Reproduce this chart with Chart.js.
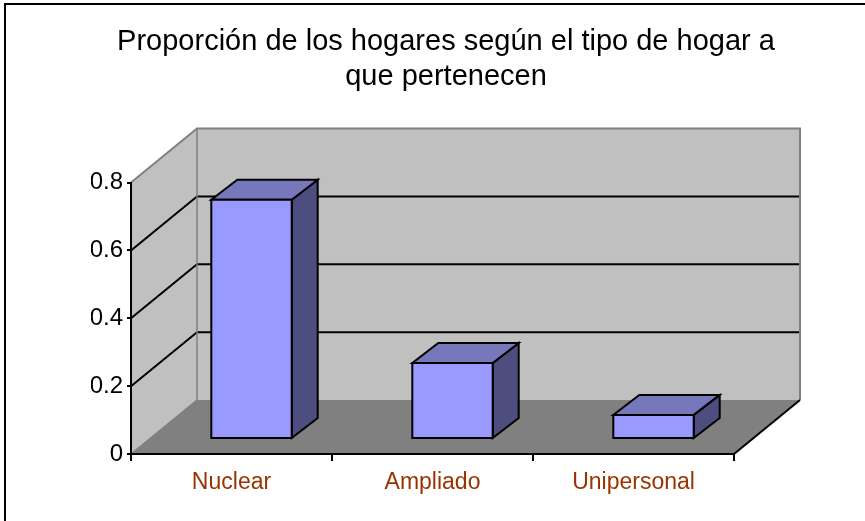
<!DOCTYPE html>
<html>
<head>
<meta charset="utf-8">
<script src="https://cdn.jsdelivr.net/npm/chart.js@4.4.0/dist/chart.umd.min.js"></script>
<style>
  html, body { margin: 0; padding: 0; background: #fff; }
</style>
</head>
<body>
<canvas id="grafico" width="865" height="521"></canvas>
<script>
// datos del gráfico
const categorias = ['Nuclear', 'Ampliado', 'Unipersonal'];
const proporciones = [0.705, 0.224, 0.071];
const titulo = ['Proporción de los hogares según el tipo de hogar a', 'que pertenecen'];
const ejeMin = 0;
const ejeMax = 0.8;
const ejePaso = 0.2;

// profundidad del efecto 3D (pixeles)
const FONDO_DX = 66, FONDO_DY = -54;   // pared del fondo
const BARRA_DX = 20, BARRA_DY = -15;   // donde se apoyan las barras en el piso
const CARA_DX = 26, CARA_DY = -20;     // grosor de cada barra

function poligono(ctx, pts, relleno, borde, ancho) {
  ctx.beginPath();
  ctx.moveTo(pts[0][0], pts[0][1]);
  for (let i = 1; i < pts.length; i++) ctx.lineTo(pts[i][0], pts[i][1]);
  ctx.closePath();
  if (relleno) { ctx.fillStyle = relleno; ctx.fill(); }
  if (borde) { ctx.strokeStyle = borde; ctx.lineWidth = ancho; ctx.stroke(); }
}

function linea(ctx, pts, color, ancho) {
  ctx.beginPath();
  ctx.moveTo(pts[0][0], pts[0][1]);
  for (let i = 1; i < pts.length; i++) ctx.lineTo(pts[i][0], pts[i][1]);
  ctx.strokeStyle = color;
  ctx.lineWidth = ancho;
  ctx.stroke();
}

const efecto3D = {
  id: 'efecto3D',
  beforeDraw(chart) {
    const ctx = chart.ctx;
    const { left, right, top, bottom } = chart.chartArea;
    const escalaY = chart.scales.y;
    ctx.save();
    ctx.lineJoin = 'miter';

    // marco exterior
    ctx.strokeStyle = '#000';
    ctx.lineWidth = 2;
    ctx.strokeRect(5, 4, chart.width, chart.height);

    // paredes y piso
    poligono(ctx, [[left + FONDO_DX, top + FONDO_DY], [right + FONDO_DX, top + FONDO_DY],
      [right + FONDO_DX, bottom + FONDO_DY], [left + FONDO_DX, bottom + FONDO_DY]], '#C0C0C0');
    poligono(ctx, [[left, top], [left + FONDO_DX, top + FONDO_DY],
      [left + FONDO_DX, bottom + FONDO_DY], [left, bottom]], '#C0C0C0');
    poligono(ctx, [[left, bottom], [right, bottom],
      [right + FONDO_DX, bottom + FONDO_DY], [left + FONDO_DX, bottom + FONDO_DY]], '#808080');

    // lineas de division en las paredes
    escalaY.ticks.forEach(t => {
      if (t.value <= ejeMin || t.value >= ejeMax) return;
      const py = escalaY.getPixelForValue(t.value);
      linea(ctx, [[left, py], [left + FONDO_DX, py + FONDO_DY], [right + FONDO_DX, py + FONDO_DY]], '#000', 2);
    });

    // bordes grises de las paredes
    linea(ctx, [[left, top], [left + FONDO_DX, top + FONDO_DY], [right + FONDO_DX, top + FONDO_DY],
      [right + FONDO_DX, bottom + FONDO_DY]], '#808080', 2);
    linea(ctx, [[left + FONDO_DX, top + FONDO_DY], [left + FONDO_DX, bottom + FONDO_DY]], '#808080', 1.5);
    linea(ctx, [[left, bottom], [left + FONDO_DX, bottom + FONDO_DY]], '#808080', 1.5);

    // borde derecho del piso
    linea(ctx, [[right, bottom], [right + FONDO_DX, bottom + FONDO_DY]], '#000', 2);
    ctx.restore();
  },
  beforeDatasetDraw() {
    return false; // las barras se dibujan en 3D abajo
  },
  afterDatasetsDraw(chart) {
    const ctx = chart.ctx;
    const ds = chart.data.datasets[0];
    ctx.save();
    ctx.lineJoin = 'miter';
    chart.getDatasetMeta(0).data.forEach(barra => {
      const p = barra.getProps(['x', 'y', 'base', 'width'], true);
      const x0 = p.x - p.width / 2 + BARRA_DX;
      const x1 = p.x + p.width / 2 + BARRA_DX;
      const yt = p.y + BARRA_DY;
      const yb = p.base + BARRA_DY;
      poligono(ctx, [[x1, yt], [x1 + CARA_DX, yt + CARA_DY], [x1 + CARA_DX, yb + CARA_DY], [x1, yb]],
        ds.colorLado, '#000', 2);
      poligono(ctx, [[x0, yt], [x1, yt], [x1 + CARA_DX, yt + CARA_DY], [x0 + CARA_DX, yt + CARA_DY]],
        ds.colorTapa, '#000', 2);
      poligono(ctx, [[x0, yt], [x1, yt], [x1, yb], [x0, yb]], ds.backgroundColor, '#000', 2);
    });
    ctx.restore();
  }
};

Chart.defaults.font.family = "'Liberation Sans', Arial, sans-serif";

new Chart(document.getElementById('grafico'), {
  type: 'bar',
  data: {
    labels: categorias,
    datasets: [{
      data: proporciones,
      backgroundColor: '#9999FF',
      colorTapa: '#7777BB',
      colorLado: '#4D4D80',
      borderWidth: 0,
      barPercentage: 0.4,
      categoryPercentage: 1
    }]
  },
  options: {
    responsive: false,
    animation: false,
    layout: { padding: { left: 91, right: 64, top: 0, bottom: 0 } },
    plugins: {
      legend: { display: false },
      tooltip: { enabled: false },
      title: {
        display: true,
        text: titulo,
        color: '#000',
        font: { size: 29, weight: 'normal', lineHeight: 1.2 },
        padding: { top: 25, bottom: 88 }
      }
    },
    scales: {
      x: {
        grid: { offset: true, drawOnChartArea: false, drawTicks: true, tickLength: 7, color: '#000', lineWidth: 2 },
        border: { display: true, color: '#000', width: 2 },
        ticks: { color: '#993300', font: { size: 23 }, padding: 8 },
        afterFit(scale) { scale.height = 67; }
      },
      y: {
        min: ejeMin,
        max: ejeMax,
        ticks: {
          stepSize: ejePaso,
          color: '#000',
          font: { size: 24 },
          padding: 4,
          callback: v => String(+v.toFixed(1))
        },
        grid: { drawOnChartArea: false, drawTicks: true, tickLength: 4, color: '#000', lineWidth: 2 },
        border: { display: true, color: '#000', width: 2 },
        afterFit(scale) { scale.width = 40; }
      },
      // eje vacio a la derecha, reserva el espacio de la profundidad
      y2: {
        position: 'right',
        display: true,
        grid: { display: false },
        border: { display: false },
        ticks: { display: false },
        afterFit(scale) { scale.width = 67; }
      }
    }
  },
  plugins: [efecto3D]
});
</script>
</body>
</html>
